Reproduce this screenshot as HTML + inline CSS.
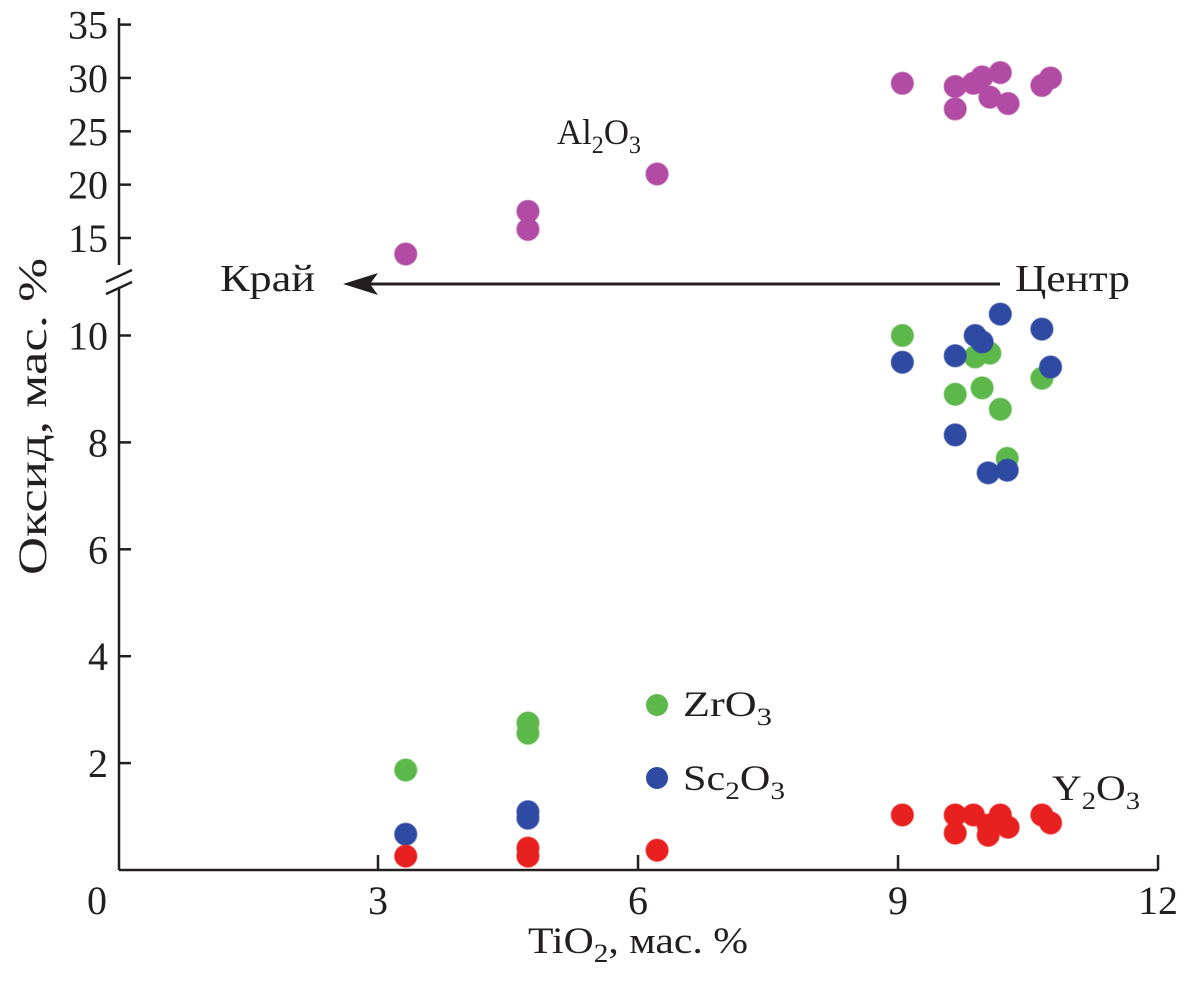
<!DOCTYPE html>
<html><head><meta charset="utf-8"><style>
body{margin:0;background:#fff}
svg text{font-family:"Liberation Serif","DejaVu Serif",serif;fill:#231f20}
</style></head><body>
<svg id="c" width="1199" height="982" viewBox="0 0 1199 982"></svg>
<script>
const xTicks=[0,3,6,9,12];
const yLowTicks=[2,4,6,8,10];
const yHighTicks=[15,20,25,30,35];
const al2o3X=[3.32,4.73,4.73,6.22,9.05,9.66,9.66,9.87,9.97,10.18,10.06,10.27,10.66,10.76];
const al2o3Y=[13.5,17.5,15.8,21.0,29.5,29.2,27.1,29.5,30.1,30.5,28.2,27.6,29.3,30.0];
const zrX=[3.32,4.73,4.73,9.05,10.06,9.89,10.66,9.66,9.97,10.18,10.26];
const zrY=[1.87,2.75,2.56,10.0,9.67,9.6,9.2,8.9,9.02,8.62,7.7];
const scX=[3.32,4.73,4.73,9.05,10.18,10.66,9.89,9.97,9.66,10.76,9.66,10.26,10.04];
const scY=[0.67,1.09,0.97,9.5,10.4,10.12,10.0,9.88,9.62,9.41,8.14,7.48,7.43];
const yX=[3.32,4.73,4.73,6.22,9.05,9.66,9.66,9.87,10.04,10.04,10.18,10.27,10.66,10.76];
const yY=[0.26,0.41,0.26,0.37,1.03,1.03,0.69,1.03,0.84,0.65,1.03,0.8,1.03,0.88];
const NS='http://www.w3.org/2000/svg';
const svg=document.getElementById('c');
const sx=v=>118+v*86.67;
const syL=v=>870-v*53.45;
const syH=v=>238-(v-15)*10.67;
function el(t,a,p){const e=document.createElementNS(NS,t);for(const k in a)e.setAttribute(k,a[k]);(p||svg).appendChild(e);return e;}
let ax=el('path',{d:'M119 870 H1158 M119 870 V288 M119 265 V18',stroke:'#231f20','stroke-width':2.5,fill:'none'});


let br=el('path',{d:'M106 282 L132 270 M106 294 L132 282',stroke:'#231f20','stroke-width':2.5});


xTicks.forEach(v=>{
 if(v>0){const t=el('line',{x1:sx(v),x2:sx(v),y1:870,y2:855,stroke:'#231f20','stroke-width':2.5});
 
 }
 const l=el('text',{x:v===0?97:sx(v),y:914,'font-size':40,'text-anchor':'middle'});l.textContent=v;
 
 
});
yLowTicks.forEach(v=>{
 const t=el('line',{x1:119,x2:131,y1:syL(v),y2:syL(v),stroke:'#231f20','stroke-width':2.5});
 
 
 const l=el('text',{x:108,y:syL(v)+14,'font-size':40,'text-anchor':'end'});l.textContent=v;
 
 
});
yHighTicks.forEach(v=>{
 const t=el('line',{x1:119,x2:131,y1:syH(v),y2:syH(v),stroke:'#231f20','stroke-width':2.5});
 
 
 const l=el('text',{x:108,y:syH(v)+14,'font-size':40,'text-anchor':'end'});l.textContent=v;
 
 
});
function series(xs,ys,sy,col,name){
 xs.forEach((x,i)=>{const c=el('circle',{cx:sx(x),cy:sy(ys[i]),r:11,fill:col,stroke:col,'stroke-opacity':0.6,'stroke-width':1.5});
 
 });
}
series(al2o3X,al2o3Y,syH,'#b24ba3','al2o3-point');
series(zrX,zrY,syL,'#5cb84a','zro3-point');
series(scX,scY,syL,'#2e4aa2','sc2o3-point');
series(yX,yY,syL,'#e8201f','y2o3-point');
</script>
<script>
const s=document.getElementById('c');
s.insertAdjacentHTML('beforeend',`
<circle cx="657" cy="705" r="11" fill="#5cb84a"/>
<circle cx="657" cy="778" r="11" fill="#2e4aa2"/>
<text x="683" y="716" font-size="36" textLength="89" lengthAdjust="spacingAndGlyphs">ZrO<tspan font-size="25" dy="9">3</tspan></text>
<text x="683" y="790" font-size="36" textLength="102" lengthAdjust="spacingAndGlyphs">Sc<tspan font-size="25" dy="9">2</tspan><tspan dy="-9">O</tspan><tspan font-size="25" dy="9">3</tspan></text>
<text x="1052" y="800" font-size="36" textLength="88" lengthAdjust="spacingAndGlyphs">Y<tspan font-size="25" dy="9">2</tspan><tspan dy="-9">O</tspan><tspan font-size="25" dy="9">3</tspan></text>
<text x="557" y="144" font-size="36" textLength="84" lengthAdjust="spacingAndGlyphs">Al<tspan font-size="25" dy="9">2</tspan><tspan dy="-9">O</tspan><tspan font-size="25" dy="9">3</tspan></text>
<line x1="1000" y1="284" x2="365" y2="284" stroke="#231f20" stroke-width="3"/>
<path d="M343 284 L378 273 L370 284 L378 295 Z" fill="#231f20"/>
<text x="1015" y="291" font-size="38" textLength="115" lengthAdjust="spacingAndGlyphs">Центр</text>
<text x="220" y="291" font-size="38" textLength="95" lengthAdjust="spacingAndGlyphs">Край</text>
<text x="528" y="953" font-size="37" textLength="220" lengthAdjust="spacingAndGlyphs">TiO<tspan font-size="26" dy="9">2</tspan><tspan dy="-9">, мас. %</tspan></text>
<text transform="translate(46 575) rotate(-90)" font-size="40" textLength="317" lengthAdjust="spacingAndGlyphs">Оксид, мас. %</text>
`);
</script>
</body></html>
